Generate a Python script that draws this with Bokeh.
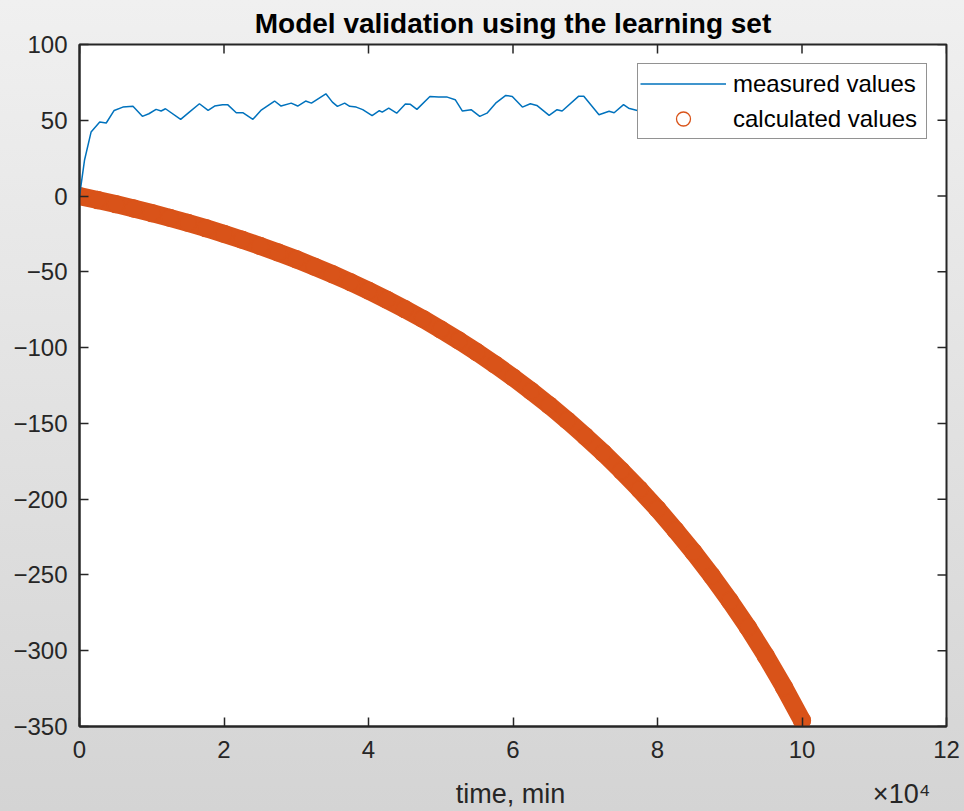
from bokeh.plotting import figure
from bokeh.models import (Range1d, FixedTicker, LinearAxis, Legend, LegendItem,
                          ColumnDataSource)
from bokeh.embed import file_html
from bokeh.resources import INLINE

# ---- data (time in units of 10^4 min) ----
t_measured = [0, 0.069, 0.16, 0.28, 0.37, 0.48, 0.60, 0.74, 0.87, 0.96, 1.06, 1.13,
              1.19, 1.40, 1.52, 1.66, 1.78, 1.87, 1.98, 2.05, 2.17, 2.26, 2.40, 2.51,
              2.70, 2.79, 2.93, 3.02, 3.13, 3.21, 3.41, 3.50, 3.57, 3.67, 3.74, 3.83,
              3.92, 4.05, 4.15, 4.19, 4.28, 4.39, 4.51, 4.58, 4.67, 4.85, 4.97, 5.09,
              5.20, 5.30, 5.42, 5.54, 5.64, 5.76, 5.90, 5.99, 6.13, 6.24, 6.33, 6.50,
              6.61, 6.68, 6.91, 6.98, 7.19, 7.33, 7.40, 7.53, 7.60, 7.72,
              7.90, 8.20, 8.50, 8.80, 9.10, 9.40, 9.70, 10.0]
measured = [0, 23.6, 42.2, 48.8, 48.2, 56.5, 58.7, 59.2, 52.6, 54.3, 57.2, 56.1,
            57.6, 50.6, 55.4, 60.9, 56.5, 59.4, 60.3, 60.3, 55.0, 55.0, 50.6, 56.5,
            62.7, 59.4, 61.3, 59.4, 62.7, 61.3, 67.5, 62.0, 59.2, 61.3, 59.2, 58.7,
            57.0, 53.0, 56.3, 55.4, 58.0, 54.7, 60.7, 60.5, 57.2, 65.7, 65.3, 65.3,
            63.6, 56.1, 57.0, 52.6, 54.7, 61.3, 66.4, 65.7, 58.7, 60.9, 59.8, 53.2,
            57.0, 56.1, 65.9, 65.9, 53.7, 55.9, 55.0, 60.3, 58.0, 56.5,
            58.0, 55.0, 60.0, 57.0, 62.0, 56.0, 59.0, 58.0]

t_calc = [0, 0.25, 0.5, 0.75, 1.0, 1.25, 1.5, 1.75, 2.0, 2.25, 2.5, 2.75,
          3.0, 3.25, 3.5, 3.75, 4.0, 4.25, 4.5, 4.75, 5.0, 5.25, 5.5, 5.75,
          6.0, 6.25, 6.5, 6.75, 7.0, 7.25, 7.5, 7.75, 8.0, 8.25, 8.5, 8.75,
          9.0, 9.25, 9.5, 9.75, 10.0]
calculated = [0, -2.6, -5.3, -8.2, -11.2, -14.4, -17.7, -21.2, -24.9, -28.8,
              -32.9, -37.2, -41.7, -46.5, -51.5, -56.8, -62.4, -68.3, -74.5,
              -81.0, -88.0, -95.3, -103.0, -111.1, -119.6, -128.6, -138.0,
              -148.0, -158.5, -169.5, -181.2, -193.5, -206.5, -220.5, -235.0,
              -250.5, -267.0, -284.5, -303.5, -324.0, -346.0]

x_ticks_e4 = [0, 2, 4, 6, 8, 10, 12]
x_tick_labels = ["0", "2", "4", "6", "8", "10", "12"]
y_ticks = [-350, -300, -250, -200, -150, -100, -50, 0, 50, 100]

SCALE = 1e4
FONT = "Liberation Sans"
AX = "#262626"
X_MIN, X_MAX = 0, 12 * SCALE
Y_MIN, Y_MAX = -350, 100
FRAME_W, FRAME_H = 867, 683
TICK_PX = 9

src_m = ColumnDataSource(dict(t=[v * SCALE for v in t_measured], y=measured))
src_c = ColumnDataSource(dict(t=[v * SCALE for v in t_calc], y=calculated))

p = figure(width=964, height=811, output_backend="svg", toolbar_location=None,
           x_range=Range1d(X_MIN, X_MAX), y_range=Range1d(Y_MIN, Y_MAX),
           min_border_left=79, min_border_right=18, min_border_top=44,
           min_border_bottom=84, x_axis_type=None, y_axis_type=None)
p.border_fill_color = None
p.styles = {"background": "linear-gradient(to bottom, #f0f0f0, #d4d4d4)"}
p.background_fill_color = "white"
p.outline_line_color = AX
p.outline_line_width = 2
p.grid.visible = False

p.title.text = "Model validation using the learning set"
p.title.align = "center"
p.title.text_font = FONT
p.title.text_font_style = "bold"
p.title.text_font_size = "28px"
p.title.text_color = "black"
p.title.standoff = 11

x_ticks = [v * SCALE for v in x_ticks_e4]
overrides = {t: lab for t, lab in zip(x_ticks, x_tick_labels)}


def style_axis(ax):
    ax.axis_line_color = AX
    ax.axis_line_width = 2
    ax.major_tick_line_color = AX
    ax.major_tick_line_width = 1.5
    ax.major_tick_in = TICK_PX
    ax.major_tick_out = 0
    ax.minor_tick_line_color = None
    ax.major_label_text_font = FONT
    ax.major_label_text_color = AX
    ax.major_label_text_font_size = "24px"


# x label centred on the axis, with the x10^4 exponent at the right end
NB = "\u00a0"
xlabel = NB * 48 + "time, min" + NB * 41 + "\u00d710\u2074"

xb = LinearAxis(ticker=FixedTicker(ticks=x_ticks), major_label_overrides=overrides)
style_axis(xb)
xb.major_label_standoff = 14
xb.axis_label = xlabel
xb.axis_label_text_font = FONT
xb.axis_label_text_font_style = "normal"
xb.axis_label_text_font_size = "27px"
xb.axis_label_text_color = AX
xb.axis_label_standoff = 18
p.add_layout(xb, "below")

yl = LinearAxis(ticker=FixedTicker(ticks=y_ticks))
style_axis(yl)
yl.major_label_standoff = 12
p.add_layout(yl, "left")

# mirrored inward ticks on the top and right edges of the box
dx = TICK_PX * (X_MAX - X_MIN) / FRAME_W
dy = TICK_PX * (Y_MAX - Y_MIN) / FRAME_H
top_src = ColumnDataSource(dict(x=x_ticks, y0=[Y_MAX] * len(x_ticks),
                                y1=[Y_MAX - dy] * len(x_ticks)))
right_src = ColumnDataSource(dict(y=y_ticks, x0=[X_MAX] * len(y_ticks),
                                  x1=[X_MAX - dx] * len(y_ticks)))
p.segment(x0="x", y0="y0", x1="x", y1="y1", source=top_src,
          line_color=AX, line_width=1.5)
p.segment(x0="x0", y0="y", x1="x1", y1="y", source=right_src,
          line_color=AX, line_width=1.5)

# calculated values: dense open circles forming a thick band
p.line("t", "y", source=src_c, line_color="#D95319", line_width=18,
       line_cap="round", line_join="round")
r_c = p.scatter("t", "y", source=src_c, marker="circle", size=17,
                fill_color=None, line_color="#D95319", line_width=1.3)

# measured values
r_m = p.line("t", "y", source=src_m, line_color="#0072BD", line_width=1.5)

legend = Legend(items=[LegendItem(label="measured values", renderers=[r_m]),
                       LegendItem(label="calculated values", renderers=[r_c])],
                location="top_right", margin=19, padding=2, spacing=-1,
                glyph_width=86, glyph_height=35, label_standoff=7,
                label_width=191,
                label_text_font=FONT, label_text_font_size="24px",
                label_text_color="black", border_line_color=AX,
                border_line_width=1.5, background_fill_color="white",
                background_fill_alpha=1)
p.add_layout(legend)

open("out.html", "w").write(file_html(p, INLINE))
